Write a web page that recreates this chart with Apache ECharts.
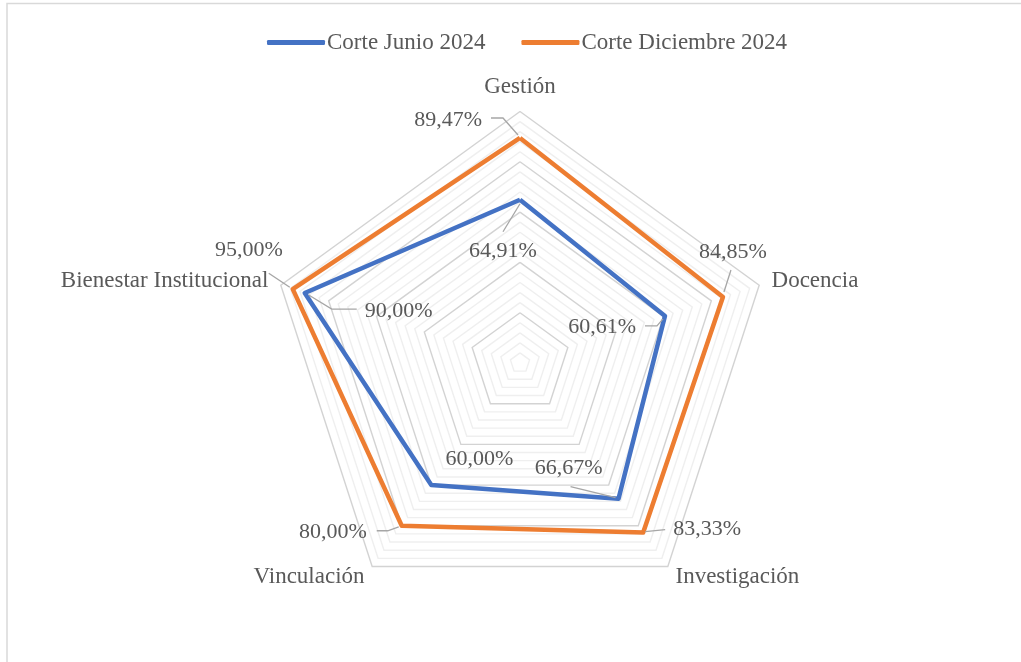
<!DOCTYPE html>
<html>
<head>
<meta charset="utf-8">
<script src="https://cdn.jsdelivr.net/npm/echarts@6/dist/echarts.min.js"></script>
<style>
  html, body { margin: 0; padding: 0; background: #fff; }
  #chart { width: 1021px; height: 662px; }
</style>
</head>
<body>
<div id="chart"></div>
<script>
// data
var categories = ['Gestión', 'Docencia', 'Investigación', 'Vinculación', 'Bienestar Institucional']
var seriesNames = ['Corte Junio 2024', 'Corte Diciembre 2024']
var junio2024 = [64.91, 60.61, 66.67, 60.00, 90.00]
var diciembre2024 = [89.47, 84.85, 83.33, 80.00, 95.00]
var scaleMax = 100
var scaleStep = 4

// look
var FONT = 'Liberation Serif'
var TEXT = '#595959'
var BLUE = '#4472C4'
var ORANGE = '#ED7D31'
var CX = 520, CY = 363, R = 251.5

// label placement (offset from the point, leader line points relative to it)
var junioLabels = [
  { dx: -17, dy: 51, align: 'center', line: [[0, 4], [-17, 32]] },
  { dx: -29, dy: 11, align: 'right', line: [[-2, 3], [-8, 10], [-20, 10]] },
  { dx: -50, dy: -30, align: 'center', line: [[-3, -1], [-48, -12]] },
  { dx: 48, dy: -26, align: 'center', line: null },
  { dx: 60, dy: 18, align: 'left', line: [[4, 2], [27, 16], [52, 16]] }
]
var diciembreLabels = [
  { dx: -38, dy: -18, align: 'right', line: [[-2, -3], [-17, -20], [-29, -20]] },
  { dx: 10, dy: -45, align: 'center', line: [[1, -5], [8, -27]] },
  { dx: 30, dy: -3, align: 'left', line: [[2, -1], [22, -3]] },
  { dx: -35, dy: 6, align: 'right', line: [[-3, 1], [-14, 5], [-25, 5]] },
  { dx: -10, dy: -39, align: 'right', line: [[-3, -2], [-24, -16]] }
]

// echarts radar goes counter-clockwise, the reference goes clockwise
var order = [0, 4, 3, 2, 1]
function reorder(arr) {
  return order.map(function (i) { return arr[i] })
}

function fmt(v) {
  return v.toFixed(2).replace('.', ',') + '%'
}

function labelSeries(values, styles) {
  return {
    type: 'custom',
    coordinateSystem: 'polar',
    silent: true,
    z: 5,
    data: values.map(function (v, i) { return [v, i * 360 / categories.length] }),
    renderItem: function (params, api) {
      var i = params.dataIndex
      var pt = api.coord([api.value(0), api.value(1)])
      var st = styles[i]
      var children = []
      if (st.line) {
        children.push({
          type: 'polyline',
          shape: {
            points: st.line.map(function (p) { return [pt[0] + p[0], pt[1] + p[1]] })
          },
          style: { stroke: '#A6A6A6', lineWidth: 1.3, fill: null }
        })
      }
      children.push({
        type: 'text',
        x: pt[0] + st.dx,
        y: pt[1] + st.dy,
        style: {
          text: fmt(values[i]),
          fill: TEXT,
          font: '22px "' + FONT + '"',
          align: st.align,
          verticalAlign: 'middle'
        }
      })
      return { type: 'group', children: children }
    }
  }
}

var chart = echarts.init(document.getElementById('chart'))

var gridColors = ['#D3D3D3', '#EFEFEF', '#EFEFEF', '#EFEFEF', '#EFEFEF']

chart.setOption({
  backgroundColor: '#fff',
  animation: false,
  graphic: [{
    type: 'rect',
    shape: { x: 7, y: 3.5, width: 1100, height: 700 },
    style: { stroke: '#D9D9D9', lineWidth: 1.5, fill: null },
    silent: true
  }],
  legend: {
    data: seriesNames,
    left: 262,
    top: 26,
    itemWidth: 58,
    itemHeight: 5,
    itemGap: 36,
    icon: 'roundRect',
    textStyle: {
      fontFamily: FONT,
      fontSize: 23,
      color: TEXT,
      padding: [0, 0, 0, -3]
    }
  },
  radar: {
    center: [CX, CY],
    radius: R,
    startAngle: 90,
    shape: 'polygon',
    splitNumber: scaleMax / scaleStep,
    nameGap: 13,
    axisName: {
      color: TEXT,
      fontFamily: FONT,
      fontSize: 23
    },
    indicator: reorder(categories).map(function (c) {
      return { name: c, min: 0, max: scaleMax }
    }),
    axisLine: { show: false },
    splitArea: { show: false },
    splitLine: {
      lineStyle: { color: gridColors, width: 1.4 }
    }
  },
  polar: {
    center: [CX, CY],
    radius: R
  },
  angleAxis: {
    type: 'value',
    min: 0,
    max: 360,
    startAngle: 90,
    clockwise: true,
    show: false
  },
  radiusAxis: {
    type: 'value',
    min: 0,
    max: scaleMax,
    show: false
  },
  series: [
    {
      type: 'radar',
      symbol: 'none',
      z: 3,
      data: [
        {
          name: seriesNames[0],
          value: reorder(junio2024),
          itemStyle: { color: BLUE },
          lineStyle: { color: BLUE, width: 4.5, join: 'round' }
        },
        {
          name: seriesNames[1],
          value: reorder(diciembre2024),
          itemStyle: { color: ORANGE },
          lineStyle: { color: ORANGE, width: 4.5, join: 'round' }
        }
      ]
    },
    labelSeries(junio2024, junioLabels),
    labelSeries(diciembre2024, diciembreLabels)
  ]
})
</script>
</body>
</html>
